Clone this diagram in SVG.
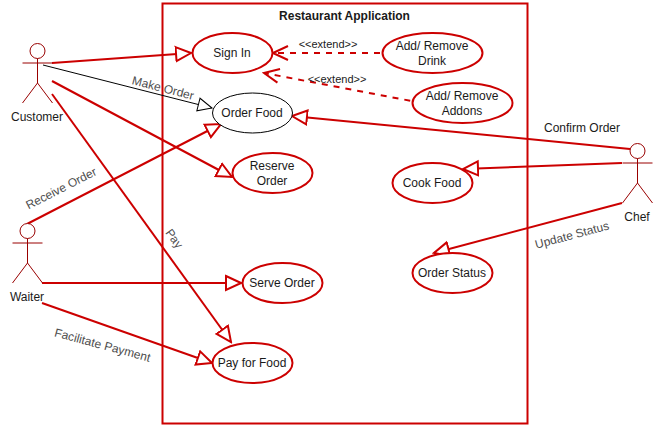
<svg xmlns="http://www.w3.org/2000/svg" width="655" height="426" viewBox="0 0 655 426">
<style>
text{font-family:"Liberation Sans",Arial,sans-serif;font-size:12px;fill:#1a1a1a;text-anchor:middle}
.uc{fill:#fff;stroke:#CC0000;stroke-width:2}
.uc.blk{stroke:#000;stroke-width:1}
.actor{fill:none;stroke:#990000;stroke-width:1}
.actor circle{fill:#fff}
.lnk{fill:none;stroke:#CC0000;stroke-width:2;marker-end:url(#tri)}
.blk-lnk{fill:none;stroke:#000;stroke-width:1;marker-end:url(#triB)}
.ext{fill:none;stroke:#CC0000;stroke-width:2;stroke-dasharray:6 6;marker-end:url(#open)}
.lbl{fill:#4d4d4d}
.sm{font-size:11px}
</style>
<defs>
<marker id="tri" markerUnits="userSpaceOnUse" viewBox="-16 -9 18 18" refX="0" refY="0" markerWidth="18" markerHeight="18" orient="auto"><path d="M-15,-7L0,0L-15,7Z" fill="#fff" stroke="#CC0000" stroke-width="2"/></marker>
<marker id="triB" markerUnits="userSpaceOnUse" viewBox="-16 -9 18 18" refX="0" refY="0" markerWidth="18" markerHeight="18" orient="auto"><path d="M-14,-6.5L0,0L-14,6.5Z" fill="#fff" stroke="#000" stroke-width="1"/></marker>
<marker id="open" markerUnits="userSpaceOnUse" viewBox="-16 -9 18 18" refX="0" refY="0" markerWidth="18" markerHeight="18" orient="auto"><path d="M-15,-7L0,0L-15,7" fill="none" stroke="#CC0000" stroke-width="2"/></marker>
</defs>
<g id="system"><rect x="162.500" y="3.500" width="365" height="420" fill="#fff" stroke="#CC0000" stroke-width="2"/><text x="344.500" y="20" style="font-weight:bold">Restaurant Application</text></g>
<g id="connectors">
<path class="lnk" d="M52,63L191,53"/>
<path class="blk-lnk" d="M43,65L212,108"/>
<path class="lnk" d="M52,81L232,177"/>
<path class="lnk" d="M52,94L231,342"/>
<path class="lnk" d="M27,224L221,124"/>
<path class="lnk" d="M42,283L241,283"/>
<path class="lnk" d="M42,303L212,363"/>
<path class="lnk" d="M630,149L292,116"/>
<path class="lnk" d="M622,163L463,169"/>
<path class="lnk" d="M622,203L434,253"/>
<path class="ext" d="M392,53L273,53"/>
<path class="ext" d="M422,103L264,73"/>
</g>
<g id="labels">
<text class="lbl" transform="translate(162,92) rotate(14.500)">Make Order</text>
<text class="lbl" transform="translate(63,192) rotate(-27)">Receive Order</text>
<text class="lbl" transform="translate(171,241) rotate(54)">Pay</text>
<text class="lbl" transform="translate(101.500,349) rotate(15)">Facilitate Payment</text>
<text class="lbl" transform="translate(573,239) rotate(-15)">Update Status</text>
<text x="582" y="132">Confirm Order</text>
<text class="sm" x="328" y="48">&lt;&lt;extend&gt;&gt;</text>
<text class="sm" x="337" y="83">&lt;&lt;extend&gt;&gt;</text>
</g>
<g id="sign-in"><ellipse class="uc" cx="232.500" cy="53" rx="40" ry="20"/><text x="232" y="57">Sign In</text></g>
<g id="order-food"><ellipse class="uc blk" cx="252.500" cy="113" rx="40" ry="20"/><text x="252" y="117">Order Food</text></g>
<g id="reserve-order"><ellipse class="uc" cx="272.500" cy="173" rx="40" ry="20"/><text x="272" y="170">Reserve</text><text x="272" y="185">Order</text></g>
<g id="add-drink"><ellipse class="uc" cx="432.500" cy="53" rx="50" ry="20"/><text x="432" y="50">Add/ Remove</text><text x="432" y="65">Drink</text></g>
<g id="add-addons"><ellipse class="uc" cx="462.500" cy="103" rx="50" ry="20"/><text x="462" y="100">Add/ Remove</text><text x="462" y="115">Addons</text></g>
<g id="cook-food"><ellipse class="uc" cx="432.500" cy="183" rx="40" ry="20"/><text x="432" y="187">Cook Food</text></g>
<g id="order-status"><ellipse class="uc" cx="452.500" cy="273" rx="40" ry="20"/><text x="452" y="277">Order Status</text></g>
<g id="serve-order"><ellipse class="uc" cx="282.500" cy="283" rx="40" ry="20"/><text x="282" y="287">Serve Order</text></g>
<g id="pay-food"><ellipse class="uc" cx="252.500" cy="363" rx="40" ry="20"/><text x="252" y="367">Pay for Food</text></g>
<g id="customer"><g class="actor"><circle cx="37.500" cy="51" r="7.500"/><path d="M37.500,58.500V83M22.500,63H52.500M22.500,103L37.500,83L52.500,103"/></g><text x="37" y="121">Customer</text></g>
<g id="waiter"><g class="actor"><circle cx="27.500" cy="231" r="7.500"/><path d="M27.500,238.500V263M12.500,243H42.500M12.500,283L27.500,263L42.500,283"/></g><text x="27" y="301">Waiter</text></g>
<g id="chef"><g class="actor"><circle cx="637.500" cy="151" r="7.500"/><path d="M637.500,158.500V183M622.500,163H652.500M622.500,203L637.500,183L652.500,203"/></g><text x="637" y="221">Chef</text></g>
</svg>
